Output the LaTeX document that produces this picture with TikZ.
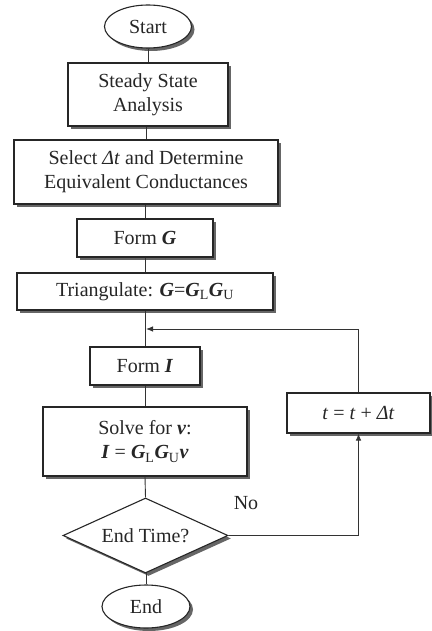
\documentclass[tikz,border=0pt]{standalone}
\usepackage{fontspec}
\setmainfont{Liberation Serif}
\usetikzlibrary{shapes.geometric,shadows,arrows.meta}
\newcommand{\bi}[1]{\textbf{\textit{#1}}}
\begin{document}
\begin{tikzpicture}[x=1pt,y=-1pt,
  every node/.style={font=\fontsize{20}{24}\selectfont, text=black!85, align=center},
  shad/.style={drop shadow={shadow xshift=3pt, shadow yshift=-3pt, fill=black!60, opacity=1}},
  procbox/.style={draw=black!85, line width=1.1pt, fill=white, rectangle, inner sep=0pt, shad},
  term/.style={draw=black!85, line width=1.1pt, fill=white, ellipse, inner sep=0pt, shad},
  decide/.style={draw=black!85, line width=1.1pt, fill=white, diamond, inner sep=0pt, aspect=2.2, shad},
  conn/.style={draw=black!80, line width=0.9pt},
  arr/.style={conn, -{Latex[length=7pt,width=5.5pt]}}]
\useasboundingbox (0,0) rectangle (431,631);
\path[fill=white] (0,0) rectangle (431,631);

\node[term, minimum width=87pt, minimum height=43pt] (start) at (148,26.5) {Start};
\node[procbox, minimum width=160pt, minimum height=63pt] (ss) at (148,94.5) {Steady State\\Analysis};
\node[procbox, minimum width=264pt, minimum height=64pt] (sel) at (146,172) {Select \textit{Δt} and Determine\\Equivalent Conductances};
\node[procbox, minimum width=136pt, minimum height=38pt] (fg) at (145,238) {Form \bi{G}};
\node[procbox, minimum width=256pt, minimum height=37pt] (tri) at (145,291.5) {Triangulate: \bi{G}=\bi{G}\textsubscript{L}\bi{G}\textsubscript{U}};
\node[procbox, minimum width=110pt, minimum height=38pt] (fi) at (145,366) {Form \bi{I}};
\node[procbox, minimum width=204pt, minimum height=69pt] (solve) at (145,441.5) {Solve for \bi{v}:\\\bi{I} = \bi{G}\textsubscript{L}\bi{G}\textsubscript{U}\bi{v}};
\node[decide, minimum width=165pt, minimum height=75pt] (dec) at (145.5,535.5) {End Time?};
\node[term, minimum width=88pt, minimum height=43pt] (endn) at (146,606.5) {End};
\node[procbox, minimum width=143pt, minimum height=40pt] (tt) at (358.5,413) {\textit{t} = \textit{t} + \textit{Δt}};
\node (no) at (246,503) {No};
\coordinate (j) at (146,329);

\draw[conn] (start.south) -- (start.south |- ss.north);
\draw[conn] (ss.south -| sel.north) -- (sel.north);
\draw[conn] (sel.south -| fg.north) -- (fg.north);
\draw[conn] (fg.south) -- (tri.north);
\draw[conn] (tri.south) -- (fi.north);
\draw[conn] (fi.south) -- (solve.north);
\draw[conn] (solve.south) -- (dec.north);
\draw[conn] (dec.south) -- (dec.south -| endn.north) -- (endn.north);
\draw[arr] (dec.east) -| (tt.south);
\draw[arr] (tt.north) |- (j);
\end{tikzpicture}
\end{document}
